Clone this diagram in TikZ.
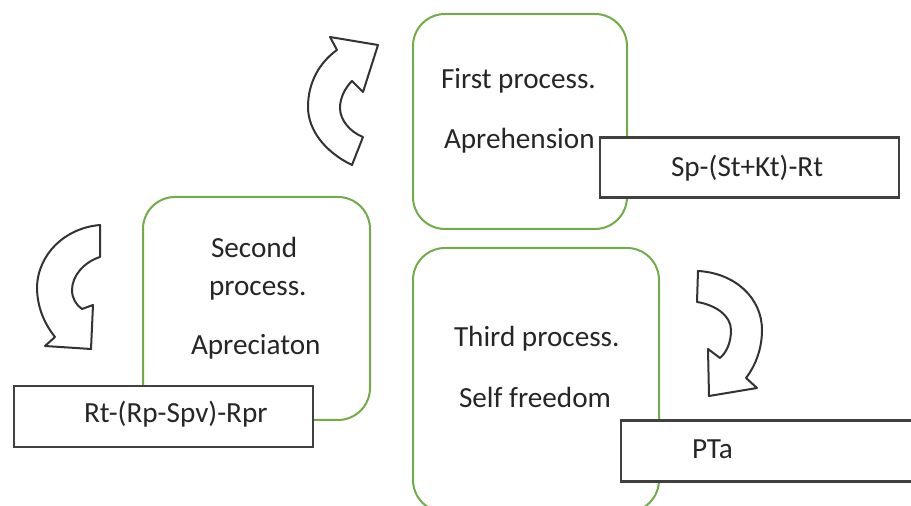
\documentclass[tikz,border=0pt]{standalone}
\usepackage{fontspec}
\setmainfont{Carlito}
\definecolor{procgreen}{HTML}{70AD47}

\begin{document}
\begin{tikzpicture}[x=0.5pt,y=-0.5pt,line width=1.0pt,
  procbox/.style={draw=procgreen,rounded corners=16pt},
  formbox/.style={draw=black!75,fill=white,line width=1.3pt},
  lbl/.style={anchor=base west,inner sep=0pt,font=\fontsize{14.6}{17}\selectfont,text=black!85},
  turnarrow/.style={draw=black!80,fill=white,line width=1.0pt,line join=round}]
\useasboundingbox (0,0) rectangle (911,506);
\clip (0,0) rectangle (911,506);
% 第一过程
\node[procbox,minimum width=107pt,minimum height=107.5pt] (first) at (520,121.5) {};
\node[formbox,minimum width=149.5pt,minimum height=30pt] (spbox) at (749.5,167.5) {};
\node[lbl] (firsta) at (440,89) {First process.};
\node[lbl] (firstb) at (443,149) {Aprehension};
\node[lbl] (sptext) at (670,177) {Sp-(St+Kt)-Rt};
% 第二过程
\node[procbox,minimum width=113.5pt,minimum height=111.5pt] (second) at (256.5,308.5) {};
\node[formbox,minimum width=149.5pt,minimum height=30.5pt] (rtbox) at (163.5,416.5) {};
\node[lbl] (seconda) at (210,258) {Second};
\node[lbl] (secondb) at (208,296) {process.};
\node[lbl] (secondc) at (190,355) {Apreciaton};
\node[lbl] (rttext) at (83,423) {Rt-(Rp-Spv)-Rpr};
% 第三过程（下沿出界）
\node[procbox,minimum width=123pt,minimum height=132pt] (third) at (536,380) {};
\node[formbox,minimum width=150pt,minimum height=30.5pt] (ptabox) at (771,451) {};
\node[lbl] (thirda) at (453,347) {Third process.};
\node[lbl] (thirdb) at (458,408) {Self freedom};
\node[lbl] (ptatext) at (691,459) {PTa};
% 弯箭头：向上
\draw[turnarrow] (352,165) -- (363,137) .. controls (350,132) and (340,120) .. (340,108)
  .. controls (340,98) and (345,88) .. (352,81) -- (363,92) -- (378,45) -- (330,37) -- (337,50)
  .. controls (320,62) and (308,82) .. (308,107) .. controls (308,130) and (325,152) .. (352,165) -- cycle;
% 弯箭头：左侧向下
\draw[turnarrow] (100,225) -- (100,257) .. controls (84,262) and (72,276) .. (72,290)
  .. controls (72,298) and (76,305) .. (82,309) -- (93,305) -- (91,349) -- (45,346) -- (55,337)
  .. controls (43,322) and (37,305) .. (37,287) .. controls (38,254) and (65,228) .. (100,225) -- cycle;
% 弯箭头：右侧向下
\draw[turnarrow] (698,271) -- (697,302) .. controls (716,305) and (731,316) .. (731,330)
  .. controls (731,342) and (727,352) .. (720,358) -- (708,349) -- (709,396) -- (757,388) -- (746,378)
  .. controls (756,365) and (762,348) .. (762,330) .. controls (762,298) and (735,273) .. (698,271) -- cycle;
\end{tikzpicture}
\end{document}
